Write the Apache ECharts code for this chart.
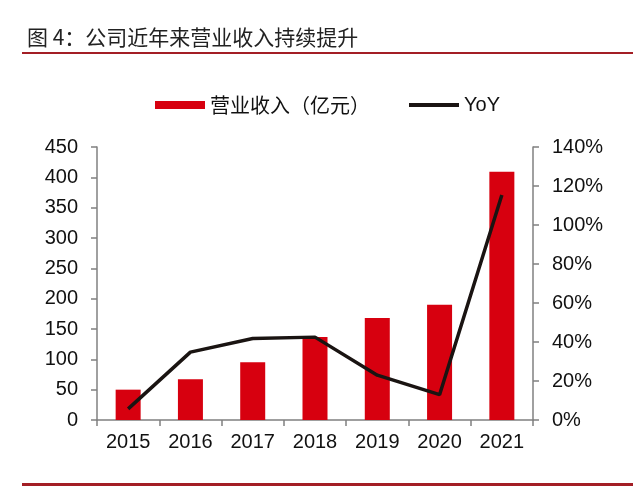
<!DOCTYPE html>
<html>
<head>
<meta charset="utf-8">
<script src="https://cdn.jsdelivr.net/npm/echarts@6/dist/echarts.min.js"></script>
<style>
  html, body { margin: 0; padding: 0; background: #fff; }
  #main { width: 640px; height: 486px; }
</style>
</head>
<body>
<div id="main"></div>
<script>
// 年份
var years = ['2015', '2016', '2017', '2018', '2019', '2020', '2021'];
// 营业收入（亿元）
var revenue = [50, 67, 95, 137, 168, 190, 409];
// 同比增速 %
var yoy = [5.7, 34.8, 41.8, 42.5, 23, 13, 115.4];

var latin = "'Liberation Sans', Arial, 'Noto Sans CJK SC', sans-serif";
var cjk = "'Noto Sans CJK SC', sans-serif";

var chart = echarts.init(document.getElementById('main'));

var option = {
  backgroundColor: '#fff',
  animation: false,
  graphic: [
    {
      type: 'text',
      left: 27,
      top: 27,
      style: { text: '图 4：公司近年来营业收入持续提升', fill: '#222', font: '21px ' + cjk }
    },
    {
      type: 'rect',
      shape: { x: 22, y: 52, width: 611, height: 2 },
      style: { fill: '#A31E25' }
    },
    {
      type: 'rect',
      shape: { x: 22, y: 483, width: 611, height: 3 },
      style: { fill: '#A31E25' }
    }
  ],
  legend: [
    {
      data: [{ name: '营业收入（亿元）', icon: 'rect' }],
      left: 150,
      top: 90,
      itemWidth: 50,
      itemHeight: 8,
      itemGap: 8,
      textStyle: { fontSize: 20, color: '#111', fontFamily: cjk }
    },
    {
      data: [{ name: 'YoY', icon: 'rect' }],
      left: 404,
      top: 90,
      itemWidth: 50,
      itemHeight: 4,
      itemGap: 4,
      itemStyle: { color: '#1a1412' },
      textStyle: { fontSize: 20, color: '#111', fontFamily: latin }
    }
  ],
  grid: {
    left: 97,
    right: 107,
    top: 147,
    bottom: 66
  },
  xAxis: {
    type: 'category',
    data: years,
    axisLine: { lineStyle: { color: '#808080', width: 1.5 } },
    axisTick: { show: true, length: 6, lineStyle: { color: '#808080', width: 1.5 } },
    axisLabel: { fontSize: 20, color: '#111', fontFamily: latin, margin: 12 }
  },
  yAxis: [
    {
      type: 'value',
      min: 0,
      max: 450,
      interval: 50,
      splitLine: { show: false },
      axisLine: { show: true, lineStyle: { color: '#808080', width: 1.5 } },
      axisTick: { show: true, length: 6, lineStyle: { color: '#808080', width: 1.5 } },
      axisLabel: { fontSize: 20, color: '#111', fontFamily: latin, margin: 19 }
    },
    {
      type: 'value',
      min: 0,
      max: 140,
      interval: 20,
      splitLine: { show: false },
      axisLine: { show: true, lineStyle: { color: '#808080', width: 1.5 } },
      axisTick: { show: true, length: 6, lineStyle: { color: '#808080', width: 1.5 } },
      axisLabel: { fontSize: 20, color: '#111', fontFamily: latin, margin: 19, formatter: '{value}%' }
    }
  ],
  series: [
    {
      name: '营业收入（亿元）',
      type: 'bar',
      data: revenue,
      barWidth: 25,
      itemStyle: { color: '#D7000F' }
    },
    {
      name: 'YoY',
      type: 'line',
      yAxisIndex: 1,
      data: yoy,
      symbol: 'none',
      lineStyle: { color: '#1a1412', width: 3.5 },
      itemStyle: { color: '#1a1412' }
    }
  ]
};

chart.setOption(option);
</script>
</body>
</html>
